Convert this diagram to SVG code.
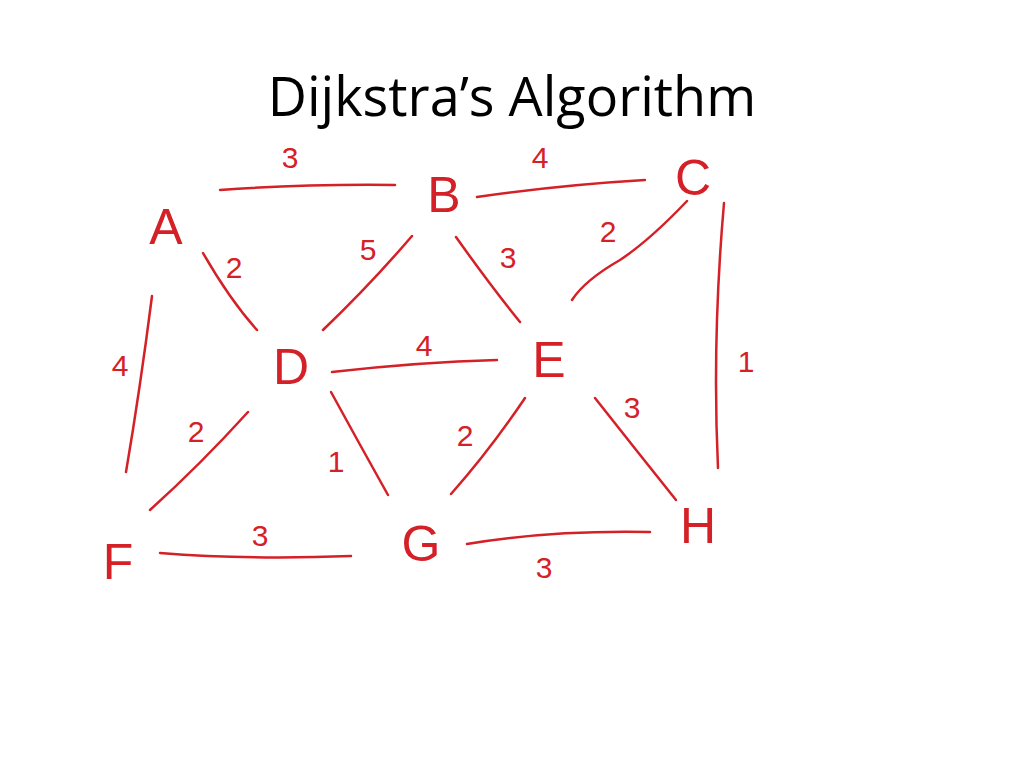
<svg xmlns="http://www.w3.org/2000/svg" width="1024" height="768" viewBox="0 0 1024 768">
<style>
.e{stroke:#d42027;stroke-width:2.5;fill:none;stroke-linecap:round}
.n{fill:#d42027;font-family:"Liberation Sans",sans-serif;font-size:50px;text-anchor:middle}
.w{fill:#d42027;font-family:"Liberation Sans",sans-serif;font-size:30px;text-anchor:middle}
</style>
<rect width="1024" height="768" fill="#fff"/>
<text x="512" y="116" font-family="Open Sans, Liberation Sans, sans-serif" font-size="54" text-anchor="middle" fill="#000">Dijkstra’s Algorithm</text>
<g id="connectors">
<path class="e" d="M220,190 Q300,184 395,185"/><text class="w" x="290" y="168">3</text>
<path class="e" d="M477,197 Q560,185 645,180"/><text class="w" x="540" y="168">4</text>
<path class="e" d="M203,253 Q230,300 257,330"/><text class="w" x="234" y="278">2</text>
<path class="e" d="M412,236 Q370,285 323,330"/><text class="w" x="368" y="260">5</text>
<path class="e" d="M456,237 Q490,285 520,322"/><text class="w" x="508" y="268">3</text>
<path class="e" d="M687,201 Q650,240 620,260 Q585,280 572,300"/><text class="w" x="608" y="242">2</text>
<path class="e" d="M724,203 Q712,340 718,468"/><text class="w" x="746" y="372">1</text>
<path class="e" d="M152,296 Q140,390 126,472"/><text class="w" x="120" y="376">4</text>
<path class="e" d="M332,372 Q420,362 497,360"/><text class="w" x="424" y="356">4</text>
<path class="e" d="M248,412 Q200,465 150,510"/><text class="w" x="196" y="442">2</text>
<path class="e" d="M331,392 Q360,445 388,495"/><text class="w" x="336" y="472">1</text>
<path class="e" d="M525,398 Q490,450 451,494"/><text class="w" x="465" y="446">2</text>
<path class="e" d="M595,398 Q636,450 676,500"/><text class="w" x="632" y="418">3</text>
<path class="e" d="M160,553 Q250,560 351,556"/><text class="w" x="260" y="546">3</text>
<path class="e" d="M467,544 Q550,530 650,532"/><text class="w" x="544" y="578">3</text>
</g>
<g id="A"><text class="n" x="166" y="244">A</text></g>
<g id="B"><text class="n" x="444" y="212">B</text></g>
<g id="C"><text class="n" x="693" y="195">C</text></g>
<g id="D"><text class="n" x="291" y="384">D</text></g>
<g id="E"><text class="n" x="549" y="377">E</text></g>
<g id="F"><text class="n" x="118" y="579">F</text></g>
<g id="G"><text class="n" x="421" y="561">G</text></g>
<g id="H"><text class="n" x="698" y="543">H</text></g>
</svg>
